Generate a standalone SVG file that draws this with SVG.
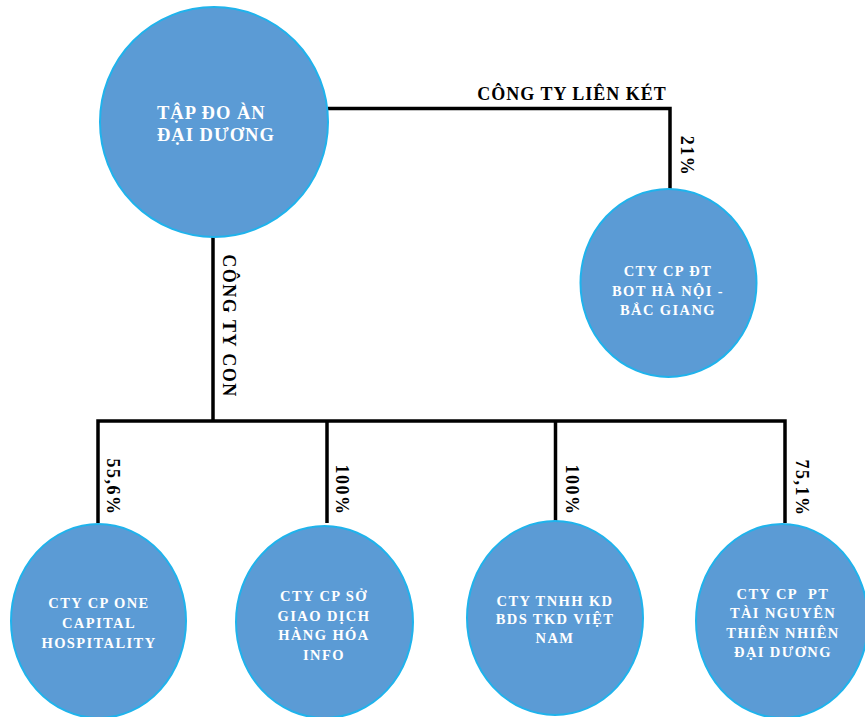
<svg xmlns="http://www.w3.org/2000/svg" width="865" height="717" viewBox="0 0 865 717">
<style>
.node{fill:#5B9BD5;stroke:#1FB3EC;stroke-width:2}
.nt{font-family:"Liberation Serif","Times New Roman",serif;font-weight:bold;fill:#FFFFFF;font-size:14.5px;letter-spacing:1.4px;text-anchor:middle}
.big{font-size:18.5px;letter-spacing:1px;text-anchor:start}
.ln{stroke:#000;stroke-width:3.5;fill:none}
.lb{font-family:"Liberation Serif","Times New Roman",serif;font-weight:bold;fill:#000;font-size:18px;letter-spacing:1.5px;text-anchor:middle}
</style>
<rect width="865" height="717" fill="#FFFFFF"/>
<g id="connectors">
<polyline class="ln" points="328,108.5 670,108.5 670,189"/>
<line class="ln" x1="213" y1="237" x2="213" y2="422"/>
<polyline class="ln" points="98,523 98,421 785,421 785,523"/>
<line class="ln" x1="327" y1="421" x2="327" y2="523"/>
<line class="ln" x1="555.5" y1="421" x2="555.5" y2="521"/>
<text class="lb" x="572" y="100" style="letter-spacing:1px">CÔNG TY LIÊN KÉT</text>
<text class="lb" transform="translate(681,156) rotate(90)">21%</text>
<text class="lb" transform="translate(223,326) rotate(90)">CÔNG TY CON</text>
<text class="lb" transform="translate(107,487) rotate(90)">55,6%</text>
<text class="lb" transform="translate(336,490) rotate(90)">100%</text>
<text class="lb" transform="translate(566,490) rotate(90)">100%</text>
<text class="lb" transform="translate(796,488) rotate(90)">75,1%</text>
</g>
<g id="n-dai-duong">
<ellipse class="node" cx="214" cy="122" rx="114" ry="115"/>
<text class="nt big" x="157" y="119">TẬP ĐO ÀN</text>
<text class="nt big" x="157" y="141">ĐẠI DƯƠNG</text>
</g>
<g id="n-bot">
<ellipse class="node" cx="668.5" cy="283" rx="88" ry="94"/>
<text class="nt" x="668" y="276">CTY CP ĐT</text>
<text class="nt" x="668" y="296">BOT HÀ NỘI -</text>
<text class="nt" x="668" y="315">BẮC GIANG</text>
</g>
<g id="n-one-capital">
<ellipse class="node" cx="98.5" cy="621" rx="87.5" ry="97"/>
<text class="nt" x="99" y="608">CTY CP ONE</text>
<text class="nt" x="99" y="628">CAPITAL</text>
<text class="nt" x="99" y="648">HOSPITALITY</text>
</g>
<g id="n-so-giao-dich">
<ellipse class="node" cx="324.5" cy="622" rx="88.5" ry="96"/>
<text class="nt" x="324" y="601">CTY CP SỞ</text>
<text class="nt" x="324" y="621">GIAO DỊCH</text>
<text class="nt" x="324" y="640">HÀNG HÓA</text>
<text class="nt" x="324" y="660">INFO</text>
</g>
<g id="n-tkd">
<ellipse class="node" cx="555" cy="618" rx="88" ry="97"/>
<text class="nt" x="555" y="606">CTY TNHH KD</text>
<text class="nt" x="555" y="624">BDS TKD VIỆT</text>
<text class="nt" x="555" y="643">NAM</text>
</g>
<g id="n-tai-nguyen">
<ellipse class="node" cx="782" cy="621" rx="86" ry="97"/>
<text class="nt" x="783" y="599">CTY CP&#160; PT</text>
<text class="nt" x="783" y="618">TÀI NGUYÊN</text>
<text class="nt" x="783" y="638">THIÊN NHIÊN</text>
<text class="nt" x="783" y="657">ĐẠI DƯƠNG</text>
</g>
</svg>
